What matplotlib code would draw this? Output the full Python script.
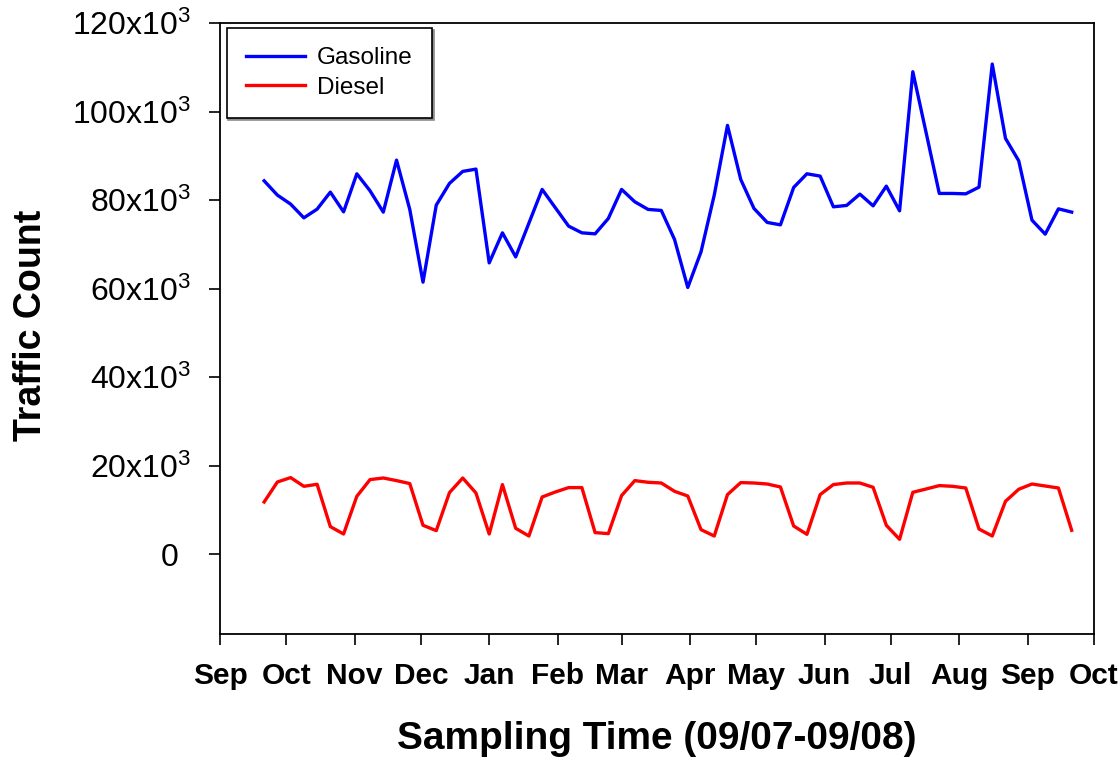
import matplotlib

matplotlib.use("Agg")
import matplotlib.dates as mdates
import matplotlib.pyplot as plt
import pandas as pd
from matplotlib.ticker import FuncFormatter
from matplotlib.transforms import ScaledTranslation

plt.rcParams["font.family"] = ["Liberation Sans", "DejaVu Sans"]

# 1-in-6 day sampling schedule, 09/2007 - 09/2008
sample_dates = pd.date_range("2007-09-21", periods=62, freq="6D")

gasoline = [
    84400, 81170, 79140, 76040, 78000, 81850, 77390, 85990, 82140, 77330,
    89080, 77940, 61500, 78910, 83820, 86530, 87050, 65860, 72650, 67220,
    74840, 82460, 78300, 74160, 72650, 72420, 75900, 82460, 79660, 77940,
    77710, 71150, 60300, 68350, 81170, 96930, 84720, 78160, 75000, 74450,
    82910, 85990, 85470, 78530, 78840, 81400, 78750, 83200, 77620, 109050,
    95350, 81550, 81550, 81460, 82980, 110790, 93990, 88930, 75520, 72350,
    78070, 77330,
]

diesel = [
    11830, 16350, 17340, 15370, 15830, 6260, 4590, 13110, 16890, 17250,
    16660, 15990, 6560, 5360, 13950, 17250, 13860, 4590, 15760, 5880,
    4140, 12960, 14090, 15080, 15080, 4910, 4680, 13270, 16660, 16280,
    16120, 14240, 13180, 5580, 4140, 13500, 16210, 16120, 15890, 15220,
    6400, 4520, 13500, 15760, 16120, 16120, 15150, 6560, 3390, 14020,
    14760, 15530, 15370, 14990, 5720, 4140, 11980, 14700, 15890, 15440,
    14990, 5430,
]

y_ticks = [0, 20000, 40000, 60000, 80000, 100000, 120000]


def count_label(value, _pos):
    if value == 0:
        return "0"
    return rf"$\mathregular{{{int(round(value / 1000))}x10^{{3}}}}$"


fig = plt.figure(figsize=(11.18, 7.61), dpi=100)
ax = fig.add_axes([0.1968, 0.1669, 0.7815, 0.8025])

ax.plot(sample_dates, gasoline, color="#0000ff", linewidth=2.4, label="Gasoline")
ax.plot(sample_dates, diesel, color="#ff0000", linewidth=2.4, label="Diesel")

ax.set_xlim(pd.Timestamp("2007-09-01"), pd.Timestamp("2008-10-01"))
ax.set_ylim(-18000, 120000)

ax.xaxis.set_major_locator(mdates.MonthLocator())
ax.xaxis.set_major_formatter(mdates.DateFormatter("%b"))
ax.set_yticks(y_ticks)
ax.yaxis.set_major_formatter(FuncFormatter(count_label))

ax.tick_params(axis="x", direction="out", length=8, width=1.2, pad=12, labelsize=21.5)
ax.tick_params(axis="y", direction="out", length=8, width=1.2, pad=13, labelsize=23)
for label in ax.get_xticklabels():
    label.set_fontweight("bold")

# the exponents hang past the label column, so pull the bare zero in line with the digits
zero_label = ax.yaxis.get_major_ticks()[0].label1
zero_label.set_transform(zero_label.get_transform() + ScaledTranslation(-9 / 72, 0, fig.dpi_scale_trans))

for spine in ax.spines.values():
    spine.set_linewidth(1.3)

ax.set_xlabel("Sampling Time (09/07-09/08)", fontsize=28, fontweight="bold")
ax.xaxis.set_label_coords(0.5, -0.143)
ax.xaxis.label.set_verticalalignment("top")
ax.set_ylabel("Traffic Count", fontsize=27, fontweight="bold")
ax.yaxis.set_label_coords(-0.1955, 0.506)

legend = ax.legend(
    loc="upper left",
    bbox_to_anchor=(0.0077, 0.9923),
    borderaxespad=0,
    fontsize=17.5,
    frameon=True,
    fancybox=False,
    shadow={"ox": 1.2, "oy": -1.2, "color": "0.55", "alpha": 1},
    handlelength=2.4,
    handletextpad=0.5,
    labelspacing=0.3,
    borderpad=0.8,
)
legend.get_frame().set_edgecolor("black")
legend.get_frame().set_linewidth(1.2)

fig.savefig("out.png", dpi=100)
plt.close(fig)
